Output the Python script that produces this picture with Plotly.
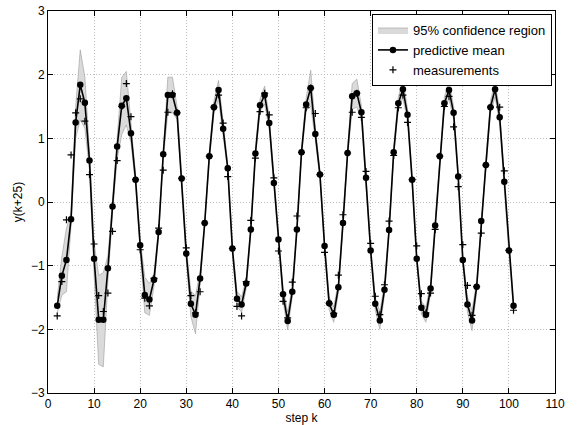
import plotly.graph_objects as go

steps = list(range(2, 102))

pred_mean = [
    -1.63, -1.16, -0.91, -0.27, 1.25, 1.84, 1.56, 0.65, -0.89, -1.85,
    -1.85, -1.04, -0.07, 0.87, 1.51, 1.63, 1.08, 0.35, -0.68, -1.46,
    -1.53, -1.22, -0.47, 0.75, 1.68, 1.68, 1.40, 0.37, -0.81, -1.60,
    -1.77, -1.20, -0.33, 0.72, 1.49, 1.76, 1.15, 0.53, -0.73, -1.52,
    -1.61, -1.28, -0.43, 0.76, 1.52, 1.68, 1.24, 0.30, -0.59, -1.45,
    -1.87, -1.41, -0.43, 0.78, 1.53, 1.79, 1.07, 0.43, -0.69, -1.59,
    -1.77, -1.34, -0.33, 0.77, 1.66, 1.71, 1.41, 0.38, -0.76, -1.60,
    -1.86, -1.38, -0.44, 0.78, 1.55, 1.77, 1.37, 0.35, -0.89, -1.66,
    -1.77, -1.36, -0.37, 0.72, 1.55, 1.76, 1.40, 0.40, -0.91, -1.61,
    -1.86, -1.33, -0.30, 0.58, 1.49, 1.77, 1.33, 0.32, -0.76, -1.63,
]

measurements = [
    -1.79, -1.25, -0.28, 0.74, 1.40, 1.62, 1.27, 0.43, -0.66, -1.47,
    -1.72, -1.43, -0.46, 0.65, 1.50, 1.86, 1.34, 0.35, -0.75, -1.51,
    -1.63, -1.20, -0.41, 0.50, 1.41, 1.70, 1.40, 0.37, -0.72, -1.47,
    -1.74, -1.41, -0.33, 0.72, 1.49, 1.68, 1.24, 0.40, -0.73, -1.64,
    -1.79, -1.25, -0.29, 0.69, 1.42, 1.71, 1.37, 0.38, -0.77, -1.56,
    -1.82, -1.26, -0.22, 0.78, 1.48, 1.79, 1.39, 0.43, -0.79, -1.59,
    -1.75, -1.15, -0.20, 0.77, 1.41, 1.71, 1.33, 0.48, -0.65, -1.48,
    -1.77, -1.30, -0.30, 0.73, 1.48, 1.68, 1.25, 0.35, -0.69, -1.44,
    -1.74, -1.43, -0.43, 0.72, 1.50, 1.66, 1.18, 0.24, -0.67, -1.31,
    -1.78, -1.33, -0.49, 0.58, 1.49, 1.89, 1.49, 0.49, -0.76, -1.70,
]

band_halfwidth = [
    0.12, 0.30, 0.50, 0.10, 0.25, 0.55, 0.40, 0.15, 0.25, 0.70,
    0.74, 0.20, 0.10, 0.20, 0.45, 0.42, 0.15, 0.08, 0.10, 0.28,
    0.25, 0.10, 0.06, 0.08, 0.28, 0.28, 0.10, 0.06, 0.10, 0.20,
    0.30, 0.10, 0.05, 0.06, 0.10, 0.15, 0.10, 0.06, 0.06, 0.12,
    0.12, 0.08, 0.05, 0.06, 0.10, 0.14, 0.10, 0.06, 0.06, 0.10,
    0.14, 0.08, 0.05, 0.06, 0.10, 0.28, 0.10, 0.06, 0.06, 0.10,
    0.12, 0.08, 0.05, 0.06, 0.20, 0.22, 0.10, 0.06, 0.06, 0.10,
    0.14, 0.08, 0.05, 0.06, 0.10, 0.14, 0.10, 0.06, 0.06, 0.10,
    0.12, 0.08, 0.05, 0.06, 0.10, 0.14, 0.10, 0.06, 0.06, 0.12,
    0.16, 0.08, 0.05, 0.06, 0.10, 0.12, 0.10, 0.06, 0.06, 0.06,
]

upper = [m + h for m, h in zip(pred_mean, band_halfwidth)]
lower = [m - h for m, h in zip(pred_mean, band_halfwidth)]

x_ticks = list(range(0, 111, 10))
y_ticks = list(range(-3, 4))

FONT = "Liberation Sans, Arial, Helvetica, sans-serif"

fig = go.Figure()

fig.add_trace(go.Scatter(
    x=steps + steps[::-1], y=upper + lower[::-1],
    fill="toself", fillcolor="#dadada",
    line=dict(color="#9a9a9a", width=0.6),
    mode="lines", name="95% confidence region",
))
fig.add_trace(go.Scatter(
    x=steps, y=pred_mean, mode="lines+markers",
    line=dict(color="black", width=1.6),
    marker=dict(symbol="circle", size=6.5, color="black"),
    name="predictive mean",
))
fig.add_trace(go.Scatter(
    x=steps, y=measurements, mode="markers",
    marker=dict(symbol="cross-thin", size=5, color="black",
                line=dict(color="black", width=1.2)),
    name="measurements",
))

axis_common = dict(
    showline=True, linecolor="black", linewidth=1, mirror="ticks",
    ticks="inside", ticklen=5, tickcolor="black",
    showgrid=True, gridcolor="#bdbdbd", griddash="1px,2px", gridwidth=1,
    zeroline=False, automargin=False,
    tickfont=dict(family=FONT, size=12, color="black"),
    title_font=dict(family=FONT, size=12, color="black"),
)

fig.update_xaxes(range=[0, 110], tickvals=x_ticks, title_text="step k",
                 title_standoff=0, **axis_common)
fig.update_yaxes(range=[-3, 3], tickvals=y_ticks, title_text="y(k+25)",
                 title_standoff=5, **axis_common)

fig.update_layout(
    width=579, height=425,
    margin=dict(l=48, r=24, t=11, b=32),
    plot_bgcolor="white", paper_bgcolor="white",
    font=dict(family=FONT, size=12, color="black"),
    legend=dict(
        x=0.994, y=0.992, xanchor="right", yanchor="top",
        bgcolor="white", bordercolor="black", borderwidth=1,
        font=dict(size=13), itemwidth=30, tracegroupgap=0,
    ),
    showlegend=True,
)

fig.write_html("out.html", config={"displayModeBar": False},
               post_script="document.body.style.margin='0';")
